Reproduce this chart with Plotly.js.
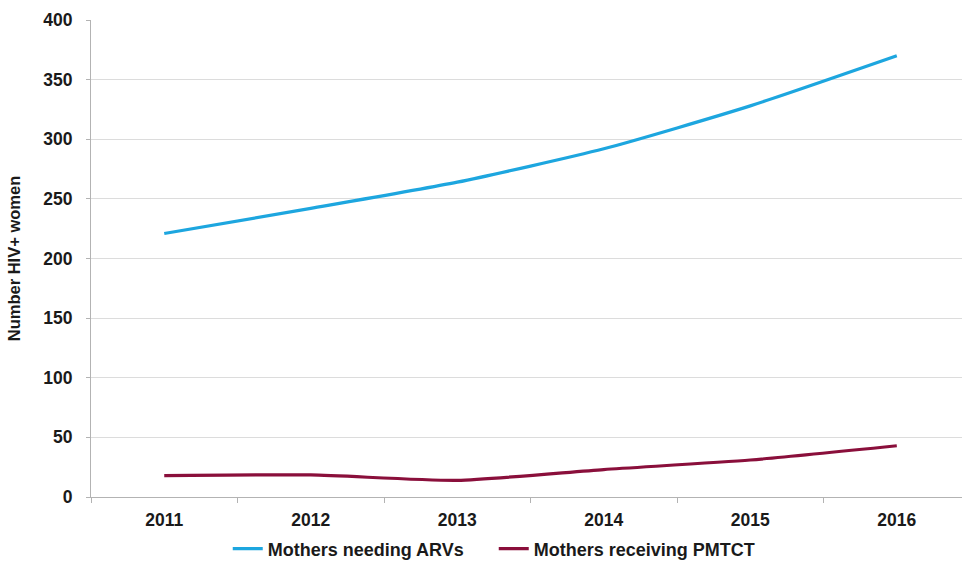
<!DOCTYPE html>
<html>
<head>
<meta charset="utf-8">
<script src="https://cdn.plot.ly/plotly-3.0.1.min.js"></script>
<style>
  html, body { margin: 0; padding: 0; background: #ffffff; overflow: hidden; }
  #chart { width: 962px; height: 569px; }
</style>
</head>
<body>
<div id="chart"></div>
<script>
// Years on the category axis
const years = ['2011', '2012', '2013', '2014', '2015', '2016'];

// HIV+ mothers needing antiretrovirals
const needingARVs = [221, 242, 264, 292, 328, 370];

// HIV+ mothers receiving PMTCT
const receivingPMTCT = [18, 18.5, 14, 23, 31, 43];

// Y axis ticks
const yTicks = [0, 50, 100, 150, 200, 250, 300, 350, 400];

const FONT = 'Liberation Sans, Arial, sans-serif';

const traces = [
  {
    x: years, y: needingARVs, name: 'Mothers needing ARVs',
    type: 'scatter', mode: 'lines',
    line: { color: '#1da6df', width: 3.2, shape: 'spline', smoothing: 0.6 },
    hoverinfo: 'skip'
  },
  {
    x: years, y: receivingPMTCT, name: 'Mothers receiving PMTCT',
    type: 'scatter', mode: 'lines',
    line: { color: '#8a0f3b', width: 3.2, shape: 'spline', smoothing: 0.6 },
    hoverinfo: 'skip'
  }
];

const layout = {
  width: 962, height: 569,
  margin: { l: 91, r: 0, t: 20, b: 72 },
  paper_bgcolor: '#ffffff', plot_bgcolor: '#ffffff',
  font: { family: FONT, color: '#1a1a1a' },
  showlegend: true,
  legend: {
    orientation: 'h', x: 0.157, xanchor: 'left', y: -0.109, yanchor: 'middle',
    font: { family: FONT, size: 18, weight: 'bold', color: '#1a1a1a' },
    itemwidth: 30, entrywidth: 221, entrywidthmode: 'pixels'
  },
  xaxis: {
    type: 'category', range: [-0.5, 5.445],
    showgrid: false, zeroline: false,
    showline: true, linecolor: '#b3b3b3', linewidth: 1,
    ticks: 'outside', tickson: 'boundaries', ticklen: 5, tickcolor: '#b3b3b3',
    tickfont: { family: FONT, size: 17.5, weight: 'bold', color: '#1a1a1a' },
    ticklabelstandoff: 7
  },
  yaxis: {
    range: [0, 400], tickvals: yTicks,
    showgrid: true, gridcolor: '#dcdcdc', gridwidth: 1,
    zeroline: false,
    showline: true, linecolor: '#b3b3b3', linewidth: 1,
    ticks: 'outside', ticklen: 4, tickcolor: '#b3b3b3',
    tickfont: { family: FONT, size: 17.5, weight: 'bold', color: '#1a1a1a' },
    ticklabelstandoff: 10,
    title: {
      text: 'Number HIV+ women', standoff: 18,
      font: { family: FONT, size: 16.5, weight: 'bold', color: '#1a1a1a' }
    }
  }
};

Plotly.newPlot('chart', traces, layout, { staticPlot: true, displayModeBar: false });
</script>
</body>
</html>
